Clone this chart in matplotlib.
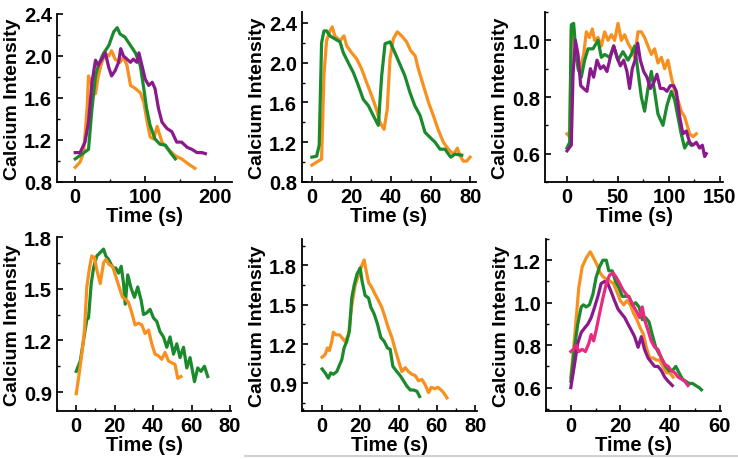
import numpy as np
import matplotlib
matplotlib.use('Agg')
import matplotlib.pyplot as plt
from matplotlib.ticker import MultipleLocator
from matplotlib.lines import Line2D

plt.rcParams['font.family'] = ['Liberation Sans', 'DejaVu Sans']
plt.rcParams['font.weight'] = 'bold'

ORANGE = '#f7901e'
GREEN = '#1b8a2c'
PURPLE = '#8a1a8c'
PINK = '#ea2a80'

# ---- panel 1 (top left) ----
p1_green_t = [0, 19, 24, 29, 33, 40, 48, 55, 60, 64, 71, 79, 86, 93, 98, 102, 107, 114, 121, 129, 136, 143]
p1_green_v = [1.02, 1.11, 1.50, 1.81, 1.91, 2.02, 2.10, 2.23, 2.27, 2.21, 2.18, 2.10, 2.03, 1.91, 1.69, 1.50, 1.34, 1.21, 1.16, 1.15, 1.08, 1.02]
p1_orange_t = [0, 7, 12, 17, 19, 24, 29, 33, 38, 43, 48, 52, 57, 64, 69, 74, 79, 86, 93, 98, 102, 107, 112, 117,
               124, 133, 143, 152, 162, 171]
p1_orange_v = [0.94, 0.99, 1.08, 1.50, 1.81, 1.72, 1.64, 1.81, 1.94, 2.02, 2.00, 2.05, 1.97, 1.94, 1.99, 1.91, 1.72,
               1.69, 1.65, 1.56, 1.40, 1.23, 1.21, 1.33, 1.18, 1.11, 1.05, 1.02, 0.97, 0.93]
p1_purple_t = [0, 7, 14, 19, 24, 29, 33, 38, 43, 48, 52, 57, 62, 65, 69, 74, 79, 83, 88, 91, 95, 100, 105, 110, 114,
               119, 124, 131, 138, 145, 152, 160, 167, 174, 181, 186]
p1_purple_v = [1.08, 1.08, 1.18, 1.37, 1.75, 1.96, 1.91, 1.97, 2.03, 1.89, 1.81, 1.86, 1.94, 2.07, 2.00, 1.97, 1.94,
               1.97, 1.94, 2.03, 1.92, 1.78, 1.72, 1.75, 1.69, 1.50, 1.37, 1.31, 1.28, 1.18, 1.18, 1.13, 1.11, 1.08,
               1.08, 1.07]

# ---- panel 2 (top middle) ----
p2_green_t = [0, 2.4, 3.7, 4.9, 6.1, 7.4, 9.1, 11.6, 14.2, 15.9, 18.4, 21, 23.5, 26, 28.5, 31, 33.6, 35.3, 37, 39.5,
              42, 44.6, 47, 49.6, 52, 54.7, 57.2, 59.7, 62.3, 64.8, 67.3, 70.2, 72.4, 75.8]
p2_green_v = [1.05, 1.06, 1.17, 2.20, 2.32, 2.32, 2.27, 2.24, 2.21, 2.10, 2.00, 1.90, 1.77, 1.63, 1.57, 1.47, 1.37,
              1.87, 2.19, 2.21, 2.10, 1.98, 1.87, 1.70, 1.57, 1.47, 1.30, 1.25, 1.20, 1.13, 1.13, 1.05, 1.08, 1.07]
p2_orange_t = [0, 2.4, 4.9, 6.1, 7.4, 9.1, 10.3, 11.6, 14.2, 16.2, 17.6, 20.1, 22.6, 25.1, 27.7, 30.2, 32.7, 34.4,
               36.5, 38.1, 39.5, 41.2, 43.2, 45.4, 47.9, 50, 52.2, 53.8, 56.4, 59, 61.4, 64, 66.5, 69, 71.6, 73.6,
               75, 76.6, 78.3, 80]
p2_orange_v = [0.97, 1.00, 1.03, 1.87, 2.22, 2.32, 2.36, 2.27, 2.22, 2.27, 2.17, 2.10, 2.04, 1.94, 1.80, 1.67, 1.53,
               1.40, 1.33, 1.53, 2.04, 2.24, 2.31, 2.27, 2.21, 2.12, 2.07, 1.94, 1.77, 1.60, 1.47, 1.32, 1.20, 1.13,
               1.08, 1.14, 1.06, 1.01, 1.01, 1.05]

# ---- panel 3 (top right) ----
p3_green_t = [0, 2.6, 4.2, 6.5, 8.5, 10.8, 14, 17.3, 20.6, 25.5, 30.4, 33.7, 36.9, 41.8, 45.8, 50, 54.9, 59.8, 63,
              66.3, 69.6, 72.9, 76.1, 79.4, 82.7, 85.9, 89.2, 94.1, 98, 102.3, 105.6, 108.8, 112, 115.4, 118.6, 121.9]
p3_green_v = [0.62, 0.64, 1.055, 1.06, 0.97, 0.90, 0.87, 0.93, 0.97, 0.97, 1.00, 0.94, 0.95, 0.94, 0.98, 0.93, 0.96,
              0.93, 0.95, 0.98, 0.89, 0.80, 0.75, 0.83, 0.89, 0.82, 0.74, 0.70, 0.77, 0.82, 0.79, 0.73, 0.67, 0.62,
              0.64, 0.63]
p3_orange_t = [0, 2.6, 4.2, 6.5, 9.2, 13, 16.3, 19, 22, 24.8, 27, 30.4, 33.7, 36.9, 40.2, 43.5, 46.7, 50, 53.3, 56.5,
               59.8, 63, 66.3, 69.6, 72.9, 76.1, 79.4, 82.7, 85.9, 89.2, 92.5, 95.8, 99, 102.3, 105.6, 108.8, 112,
               115.4, 120.3, 123.5, 126.8]
p3_orange_v = [0.67, 0.66, 1.04, 1.03, 0.93, 0.90, 0.95, 1.03, 1.01, 1.04, 1.00, 1.01, 0.98, 1.03, 1.00, 1.02, 1.00,
               1.06, 1.00, 1.02, 0.99, 0.97, 0.94, 1.03, 1.03, 1.01, 0.98, 0.95, 0.97, 0.92, 0.94, 0.90, 0.93, 0.87,
               0.82, 0.79, 0.75, 0.73, 0.67, 0.66, 0.67]
p3_purple_t = [0, 4.2, 5.9, 8.2, 10.8, 13.4, 16.3, 19.6, 22.9, 26.1, 29.4, 32.7, 35.9, 39.2, 42.5, 45.8, 49, 52.3,
               55.6, 58.8, 61.4, 64, 66.7, 69.3, 71.9, 75.2, 78.4, 81.7, 85, 88.2, 91.5, 94.8, 98, 101.3, 104.6, 107.2,
               110.5, 113.7, 117, 120.3, 123.5, 126.8, 130, 132.7, 135, 136.6]
p3_purple_v = [0.61, 0.63, 0.88, 1.00, 0.95, 0.84, 0.83, 0.82, 0.90, 0.87, 0.93, 0.90, 0.91, 0.89, 0.94, 0.98, 0.94,
               0.91, 0.93, 0.89, 0.83, 0.90, 0.93, 0.99, 0.93, 0.89, 0.87, 0.83, 0.85, 0.88, 0.83, 0.83, 0.82, 0.84,
               0.84, 0.82, 0.73, 0.67, 0.68, 0.64, 0.63, 0.64, 0.62, 0.63, 0.59, 0.60]

# ---- panel 4 (bottom left) ----
p4_green_t = [0, 2.1, 3.8, 5.5, 6.4, 7.8, 9, 10.7, 12.5, 14.2, 15.4, 16.8, 18.2, 19.4, 20.6, 22, 23.4, 24.6, 25.5,
              26.8, 28.6, 30.3, 32, 33.8, 35, 36.7, 38.4, 40.2, 41.9, 43.6, 45.4, 47.1, 48.8, 50.6, 52.3, 54, 55.8,
              57.5, 59.2, 61.5, 63.2, 64.9, 66.7, 68.4]
p4_green_v = [1.02, 1.08, 1.20, 1.32, 1.33, 1.53, 1.62, 1.69, 1.71, 1.73, 1.69, 1.67, 1.64, 1.62, 1.62, 1.59, 1.63,
              1.53, 1.41, 1.58, 1.50, 1.45, 1.51, 1.43, 1.35, 1.36, 1.38, 1.33, 1.31, 1.25, 1.22, 1.16, 1.22, 1.12,
              1.18, 1.10, 1.16, 1.04, 1.10, 0.96, 1.04, 1.02, 1.05, 0.99]
p4_orange_t = [0, 1.2, 2.9, 4.3, 5.5, 6.9, 8.1, 9.5, 10.7, 12.5, 14.2, 15.4, 17.1, 18.9, 20.6, 22.3, 24.1, 25.5,
               27.2, 28.9, 30.6, 32.4, 34.1, 35.8, 37.6, 39.3, 41, 42.8, 44.5, 46.2, 48, 49.7, 51.4, 52.8, 54.5]
p4_orange_v = [0.89, 0.98, 1.12, 1.26, 1.51, 1.62, 1.69, 1.68, 1.61, 1.53, 1.65, 1.67, 1.64, 1.63, 1.57, 1.51, 1.45,
               1.44, 1.42, 1.36, 1.29, 1.30, 1.29, 1.24, 1.26, 1.18, 1.12, 1.11, 1.09, 1.13, 1.08, 1.07, 1.06, 0.98,
               0.99]

# ---- panel 5 (bottom middle) ----
p5_green_t = [0, 1.6, 3.3, 4.5, 5.9, 7.7, 9.1, 10.3, 11.5, 12.9, 14.3, 15.5, 16.8, 18.2, 19.9, 20.9, 22.5, 24.3,
              25.5, 27.2, 29, 30.7, 32.5, 34.2, 35.6, 37, 39.1, 40.8, 42.6, 44.3, 46.1, 47.8, 49.6, 51]
p5_green_v = [1.01, 0.98, 0.94, 0.98, 0.97, 0.99, 1.04, 1.08, 1.17, 1.22, 1.30, 1.55, 1.65, 1.73, 1.78, 1.68, 1.57,
              1.55, 1.48, 1.43, 1.35, 1.25, 1.22, 1.17, 1.16, 1.03, 0.99, 0.96, 0.92, 0.88, 0.85, 0.85, 0.84, 0.80]
p5_orange_t = [0, 1.6, 2.8, 3.8, 5.1, 5.9, 7.3, 9.1, 10.3, 12, 13.8, 15.5, 17.3, 19, 20.8, 22, 23, 24.3, 26, 27.7,
               29.5, 31.2, 33, 34.7, 36.5, 38.2, 40, 41.7, 43.5, 45.2, 46.9, 48.7, 50.4, 52.2, 53.9, 55.7, 57.1, 58.8,
               60.6, 62.2, 63.5, 65.3]
p5_orange_v = [1.10, 1.12, 1.17, 1.15, 1.22, 1.29, 1.27, 1.27, 1.25, 1.22, 1.27, 1.49, 1.65, 1.72, 1.80, 1.84, 1.76,
               1.67, 1.63, 1.58, 1.53, 1.48, 1.40, 1.32, 1.25, 1.16, 1.07, 0.99, 1.02, 0.99, 0.97, 0.96, 0.92, 0.93,
               0.89, 0.83, 0.87, 0.86, 0.87, 0.85, 0.83, 0.79]

# ---- panel 6 (bottom right) ----
p6_orange_t = [0, 1.1, 2.2, 3.2, 4.6, 6.2, 7.8, 9.2, 10.5, 11.8, 13.2, 14.5, 15.9, 17.2, 18.6, 19.9, 21.3, 22.6, 24,
               25.3, 26.6, 28, 29.3, 30.4, 31.8, 33.1, 34.5, 35.8, 37.1, 38.5, 39.8, 41.2]
p6_orange_v = [0.65, 0.78, 0.93, 1.07, 1.17, 1.21, 1.24, 1.21, 1.18, 1.14, 1.12, 1.11, 1.10, 1.09, 1.05, 1.01, 0.99,
               1.01, 0.99, 0.95, 0.92, 0.88, 0.85, 0.79, 0.74, 0.74, 0.73, 0.73, 0.70, 0.67, 0.67, 0.65]
p6_green_t = [0, 1.5, 2.8, 4.2, 5.1, 6.2, 7.5, 8.9, 10.2, 11.6, 12.9, 14.3, 15.3, 16.7, 18, 19.4, 20.7, 22.1, 23.4,
              24.8, 26.1, 27.5, 28.8, 30.1, 31.5, 32.8, 34.2, 35.5, 36.9, 38.2, 39.6, 40.9, 42.3, 43.6, 45, 46.3,
              47.6, 49, 50.3, 51.7, 52.6]
p6_green_v = [0.63, 0.79, 0.90, 0.98, 0.99, 0.98, 0.99, 1.04, 1.12, 1.17, 1.20, 1.20, 1.15, 1.15, 1.10, 1.07, 1.03,
              1.03, 1.03, 0.99, 1.00, 0.98, 0.92, 0.93, 0.91, 0.85, 0.79, 0.76, 0.73, 0.70, 0.68, 0.68, 0.70, 0.67,
              0.64, 0.63, 0.62, 0.62, 0.61, 0.60, 0.59]
p6_purple_t = [0, 1.5, 2.8, 4.2, 5.5, 6.9, 8.2, 9.6, 10.9, 12.2, 13.6, 14.9, 16.3, 17.6, 19, 20.3, 21.7, 23, 24.4,
               25.7, 27.1, 28.4, 29.7, 31.1, 32.4, 33.8, 35.1, 36.5, 37.8, 39.2, 40.9]
p6_purple_v = [0.60, 0.71, 0.81, 0.86, 0.88, 0.90, 0.93, 0.98, 1.03, 1.09, 1.10, 1.09, 1.05, 1.01, 0.97, 0.95, 0.93,
               0.90, 0.87, 0.84, 0.79, 0.84, 0.78, 0.74, 0.72, 0.70, 0.70, 0.68, 0.65, 0.63, 0.61]
p6_pink_t = [0, 1.1, 2.2, 3.2, 4.6, 5.9, 7.3, 8.2, 9.2, 10.2, 11.6, 12.9, 14.3, 15.6, 17, 18.3, 19.7, 21, 22.3, 23.7,
             25, 26.4, 27.7, 28.8, 29.7, 31.1, 32.4, 33.8, 35.1, 36.5, 37.8, 39.2, 40.5, 41.9, 43.2, 44.6, 45.9, 47.2]
p6_pink_v = [0.77, 0.78, 0.80, 0.77, 0.78, 0.77, 0.81, 0.85, 0.82, 0.87, 0.95, 1.02, 1.09, 1.13, 1.14, 1.12, 1.09,
             1.06, 1.04, 1.02, 0.99, 0.96, 0.93, 0.98, 0.92, 0.87, 0.82, 0.79, 0.78, 0.74, 0.71, 0.70, 0.68, 0.67,
             0.65, 0.64, 0.63, 0.61]


W, H = 738, 460
fig = plt.figure(figsize=(W / 100, H / 100), dpi=100)


def make_axes(x0, y0, x1, y1):
    # pixel box, y measured from the top
    return fig.add_axes([x0 / W, 1 - y1 / H, (x1 - x0) / W, (y1 - y0) / H])


def style(ax, xlim, ylim, xmaj, xmin, ymaj, ymin, yfmt):
    ax.set_xlim(*xlim)
    ax.set_ylim(*ylim)
    ax.xaxis.set_major_locator(MultipleLocator(xmaj))
    ax.xaxis.set_minor_locator(MultipleLocator(xmin))
    ax.yaxis.set_major_locator(MultipleLocator(ymaj))
    ax.yaxis.set_minor_locator(MultipleLocator(ymin))
    ax.yaxis.set_major_formatter(yfmt)
    for s in ['top', 'right']:
        ax.spines[s].set_visible(False)
    for s in ['left', 'bottom']:
        ax.spines[s].set_linewidth(1.3)
    ax.tick_params(which='major', direction='in', length=4.5, width=1.2, labelsize=14.5, pad=3.5)
    ax.tick_params(which='minor', direction='in', length=2.5, width=1)
    for lab in ax.get_xticklabels() + ax.get_yticklabels():
        lab.set_fontweight('bold')
    ax.set_xlabel('Time (s)', fontsize=14.5, fontweight='bold', labelpad=0)
    ax.set_ylabel('Calcium Intensity', fontsize=14, fontweight='bold', labelpad=2)


lw = 2.3

ax1 = make_axes(57, 15, 232, 183)
ax1.plot(p1_orange_t, p1_orange_v, color=ORANGE, lw=lw)
ax1.plot(p1_green_t, p1_green_v, color=GREEN, lw=lw)
ax1.plot(p1_purple_t, p1_purple_v, color=PURPLE, lw=lw)
style(ax1, (-26, 224), (0.8, 2.4), 100, 50, 0.4, 0.2, '{x:.1f}')

ax2 = make_axes(302, 13, 476, 183)
ax2.plot(p2_orange_t, p2_orange_v, color=ORANGE, lw=lw)
ax2.plot(p2_green_t, p2_green_v, color=GREEN, lw=lw)
style(ax2, (-5, 83), (0.8, 2.51), 20, 10, 0.4, 0.2, '{x:.1f}')

ax3 = make_axes(545, 13, 723, 183)
ax3.plot(p3_orange_t, p3_orange_v, color=ORANGE, lw=lw)
ax3.plot(p3_green_t, p3_green_v, color=GREEN, lw=lw)
ax3.plot(p3_purple_t, p3_purple_v, color=PURPLE, lw=lw)
style(ax3, (-21.6, 153), (0.5, 1.1), 50, 25, 0.2, 0.1, '{x:.1f}')

ax4 = make_axes(57, 238, 231, 412)
ax4.plot(p4_green_t, p4_green_v, color=GREEN, lw=lw)
ax4.plot(p4_orange_t, p4_orange_v, color=ORANGE, lw=lw)
style(ax4, (-10, 80.5), (0.79, 1.8), 20, 10, 0.3, 0.15, '{x:.1f}')

ax5 = make_axes(302, 240, 477, 412)
ax5.plot(p5_orange_t, p5_orange_v, color=ORANGE, lw=lw)
ax5.plot(p5_green_t, p5_green_v, color=GREEN, lw=lw)
style(ax5, (-10.5, 81), (0.69, 2.0), 20, 10, 0.3, 0.15, '{x:.1f}')

ax6 = make_axes(546, 240, 721, 412)
ax6.plot(p6_orange_t, p6_orange_v, color=ORANGE, lw=lw)
ax6.plot(p6_green_t, p6_green_v, color=GREEN, lw=lw)
ax6.plot(p6_purple_t, p6_purple_v, color=PURPLE, lw=lw)
ax6.plot(p6_pink_t, p6_pink_v, color=PINK, lw=lw)
style(ax6, (-10, 60.5), (0.49, 1.3), 20, 10, 0.2, 0.1, '{x:.1f}')

# faint rule along the bottom edge of the source image
fig.add_artist(Line2D([245 / W, 1], [1 - 457 / H, 1 - 457 / H], color='#c8c8c8', lw=1.2))

fig.savefig('out.png', dpi=100)
